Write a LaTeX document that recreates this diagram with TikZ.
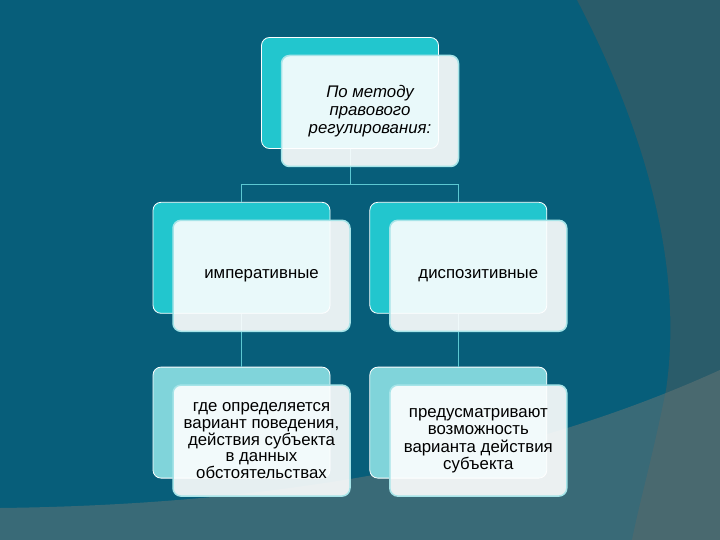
\documentclass[tikz,border=0pt]{standalone}
\usepackage{fontspec}
\setmainfont{Liberation Sans}
\usetikzlibrary{positioning}
\definecolor{bgmain}{HTML}{075E7A}
\definecolor{bgarc}{HTML}{2A5C6A}
\definecolor{bgband}{RGB}{101,117,117}
\definecolor{cyanback}{HTML}{22C6CE}
\definecolor{paleback}{HTML}{80D4DA}
\definecolor{linkcol}{HTML}{5CC8D2}
\definecolor{rimcol}{HTML}{A6E4E8}
\def\bw{177pt}
\def\bh{111pt}
\tikzstyle{back}=[draw=white,line width=0.8pt,fill=cyanback,rounded corners=8pt,
  minimum width=\bw,minimum height=\bh]
\tikzstyle{front}=[draw=rimcol,line width=1.5pt,fill=white,fill opacity=0.9,text opacity=1,
  rounded corners=8pt,minimum width=\bw,minimum height=\bh,align=center,
  font=\fontsize{16.8}{16.8}\selectfont]
\tikzstyle{link}=[draw=linkcol,line width=1pt]
\newcommand{\newBack}[3]{\node[back,#2](#1)[#3]{};}
\newcommand{\newFront}[3]{\node[front,#3](#1) at ([xshift=20pt,yshift=-18pt]#1b.center){#2};}

\begin{document}
\begin{tikzpicture}[x=1pt,y=-1pt,node distance=53pt and 39pt]
      % background
      \fill[bgmain] (0,0) rectangle (720,540);
      \fill[bgarc] (577,0) .. controls (640,120) and (685,260) .. (666,390)
        .. controls (652,460) and (640,500) .. (632,540) -- (720,540) -- (720,0) -- cycle;
      \fill[bgband,fill opacity=0.54] (0,508) .. controls (250,505) and (500,470) .. (720,370)
        -- (720,540) -- (0,540) -- cycle;
      \useasboundingbox (0,0) rectangle (720,540);
      % back boxes
      \newBack{topb}{at={(350,93)}}{}
      \newBack{impb}{}{below=of topb,xshift=-108.5pt}
      \newBack{dispb}{}{right=of impb}
      \newBack{whereb}{fill=paleback}{below=of impb}
      \newBack{provb}{fill=paleback}{below=of dispb}
      % links
      \coordinate[yshift=17pt] (split) at (topb.south |- impb.north);
      \draw[link] (topb.south) -- (split) -| (impb.north);
      \draw[link] (split) -| (dispb.north);
      \draw[link] (impb.south) -- (whereb.north);
      \draw[link] (dispb.south) -- (provb.north);
      % front boxes
      \newFront{top}{По методу\\правового\\регулирования:}{font=\fontsize{16.8}{18.3}\selectfont\itshape}
      \newFront{imp}{императивные}{}
      \newFront{disp}{диспозитивные}{}
      \newFront{where}{где определяется\\вариант поведения,\\действия субъекта\\в данных\\обстоятельствах}{}
      \newFront{prov}{предусматривают\\возможность\\варианта действия\\субъекта}{font=\fontsize{16.8}{17.3}\selectfont}
\end{tikzpicture}
\end{document}
